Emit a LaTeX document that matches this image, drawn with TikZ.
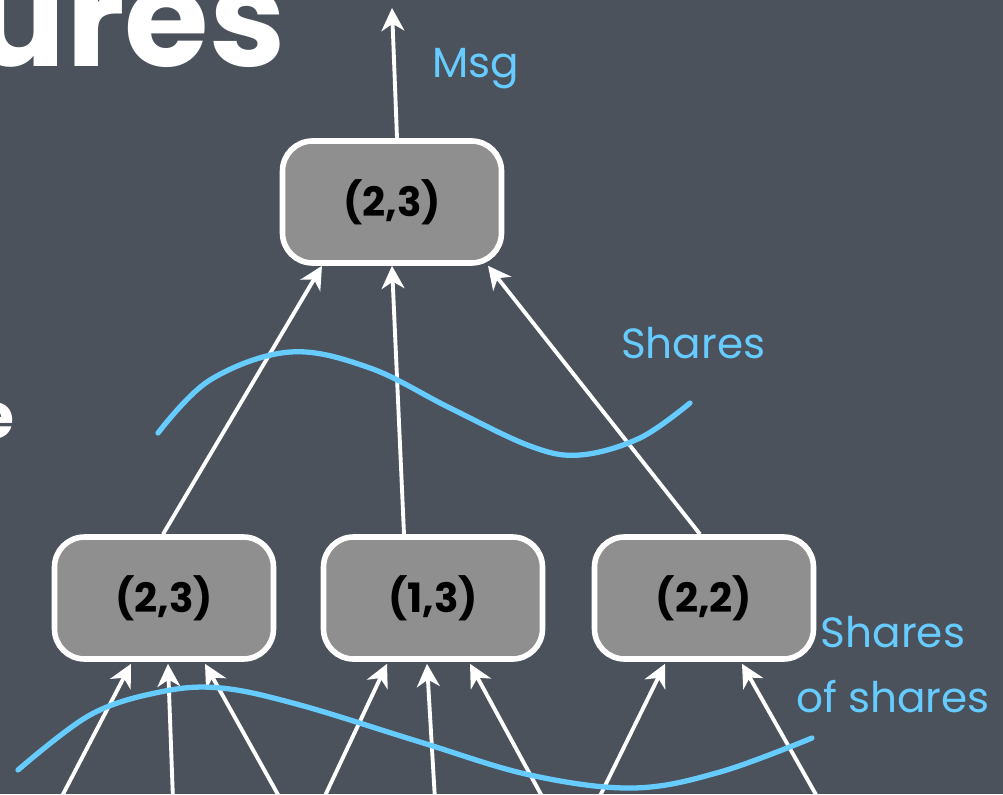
\documentclass[tikz,border=0pt]{standalone}
\usepackage{fontspec}
\setmainfont{Poppins}
\usetikzlibrary{calc,arrows.meta}
\definecolor{board}{HTML}{4C525C}
\definecolor{boxgray}{HTML}{8F8F8F}
\definecolor{sharecyan}{HTML}{66CCFF}
\begin{document}
\begin{tikzpicture}[x=0.02cm,y=-0.02cm,
   sharebox/.style={draw=white,line width=3.2pt,fill=boxgray,rounded corners=0.6cm,
     minimum width=4.38cm,minimum height=2.44cm,text=black,
     font=\fontsize{23}{28}\bfseries\selectfont},
   up/.style={draw=white,line width=2.2pt,-{Stealth[length=13pt,width=13pt,inset=4pt]}},
   wave/.style={draw=sharecyan,line width=3pt,line cap=round},
   label/.style={text=sharecyan,font=\fontsize{24}{37}\selectfont}]
   \fill[board] (0,0) rectangle (1003,794);
   \useasboundingbox (0,0) rectangle (1003,794);

   % title fragments at the edge
   \node[anchor=base east,text=white,font=\fontsize{78}{80}\bfseries\selectfont] (title) at (292,67) {tures};
   \node[anchor=base east,text=white,font=\fontsize{36}{40}\bfseries\selectfont] (edge) at (21,438) {e};

   \node[sharebox] (root) at (392,202) {(2,3)};
   \node[sharebox] (sh23) at (164,598) {(2,3)};
   \node[sharebox] (sh13) at (433,598) {(1,3)};
   \node[sharebox] (sh22) at (704,598) {(2,2)};

   \coordinate (msgtip) at (392,8);
   \draw[up] ($(root.north)+(5,0)$) -- (msgtip);
   \node[label,anchor=base west] (msg) at (426,78) {Msg};

   \draw[up] ($(sh23.north)+(-1,0)$) -- ($(root.south)+(-70,0)$);
   \draw[up] ($(sh13.north)+(-29,0)$) -- ($(root.south)+(0,0)$);
   \draw[up] ($(sh22.north)+(-4,0)$) -- ($(root.south)+(96,0)$);

   \draw[wave] plot[smooth,tension=0.6] coordinates {(158,433) (210,380) (290,352) (370,368)
      (450,408) (530,446) (580,455) (640,438) (690,403)};
   \node[label,anchor=base west] (shares) at (615,358) {Shares};

   % shares of shares, entering from below
   \foreach \nd/\bx/\tx in {sh23/60/-33,sh23/173/4,sh23/281/41,
                           sh13/323/-46,sh13/435/-6,sh13/544/37,
                           sh22/598/-39,sh22/819/38} {
      \coordinate (foot) at (\bx,800);
      \draw[up] (foot) -- ($(\nd.south)+(\tx,2)$);
   }

   \draw[wave] plot[smooth,tension=0.6] coordinates {(18,770) (90,715) (160,692) (221,688)
      (300,705) (420,742) (530,775) (633,788) (720,772) (812,738)};
   \node[label,align=center] (sos) at (893,665) {Shares\\of shares};
\end{tikzpicture}
\end{document}
